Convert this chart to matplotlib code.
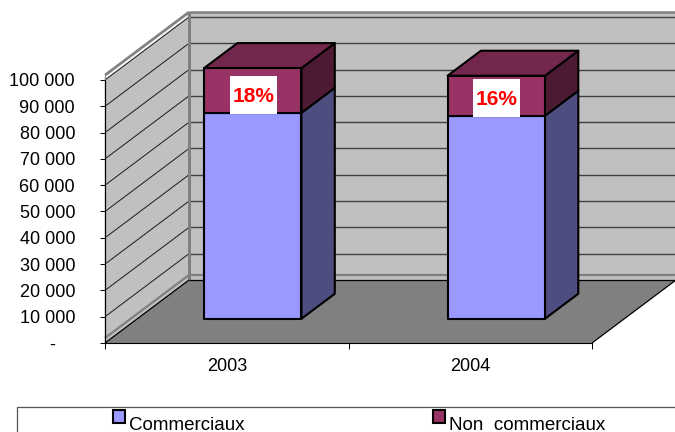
import matplotlib
matplotlib.use('Agg')
import matplotlib.pyplot as plt
from matplotlib.patches import Polygon, Rectangle, Patch
from matplotlib.transforms import ScaledTranslation

plt.rcParams['font.family'] = ['Liberation Sans', 'DejaVu Sans']

#=====
# Data
#=====

years = ['2003', '2004']
commerciaux = [78300, 77200]
non_commerciaux = [17000, 15200]
share_labels = ['18%', '16%']
y_ticks = [0, 10000, 20000, 30000, 40000, 50000, 60000, 70000, 80000, 90000, 100000]
y_tick_labels = ['-', '10 000', '20 000', '30 000', '40 000', '50 000',
                 '60 000', '70 000', '80 000', '90 000', '100 000']
legend_names = ['Commerciaux', 'Non  commerciaux']

#=================
# Oblique 3D setup
#=================

W, H = 675, 432
PX_X = 243.5     # pixels per category
PX_Y = 0.00263   # pixels per value unit
DX = 84 / PX_X   # full floor depth, in category units
DY = 63 / PX_Y   # full floor depth, in value units
BAR_D0 = 0.385   # depth of bar front
BAR_D1 = 0.782   # depth of bar back
BAR_W = 0.4
BAR_OFF = -0.026
TOP = 101900     # wall height including the rim


def proj(x, v, d=0.0):
    return (x + d * DX, v + d * DY)


fig = plt.figure(figsize=(W / 100, H / 100), dpi=100)
ax = fig.add_axes([105 / W, (H - 343) / H, (592 - 105) / W, (343 - 80) / H])
ax.set_xlim(0, 2)
ax.set_ylim(0, 100000)
ax.patch.set_visible(False)


def quad(points, color, edge='none', lw=0, z=1):
    ax.add_patch(Polygon(points, closed=True, facecolor=color, edgecolor=edge,
                         linewidth=lw, joinstyle='round', clip_on=False, zorder=z))


def line(p, q, color, lw, z=2):
    ax.plot([p[0], q[0]], [p[1], q[1]], color=color, linewidth=lw,
            clip_on=False, zorder=z, solid_capstyle='butt')


#=====================
# Walls and floor
#=====================

wall = '#C0C0C0'
rim = '#808080'
quad([proj(0, 0), proj(0, 0, 1), proj(0, TOP, 1), proj(0, TOP)], wall)
quad([proj(0, 0, 1), proj(2, 0, 1), proj(2, TOP, 1), proj(0, TOP, 1)], wall)

for v in y_ticks[1:]:
    line(proj(0, v), proj(0, v, 1), '#1A1A1A', 0.7)
    line(proj(0, v, 1), proj(2, v, 1), '#404040', 1.0)

# rim of the walls
base = 1900
line(proj(0, base), proj(0, base, 1), rim, 1.6)
line(proj(0, base, 1), proj(2, base, 1), rim, 1.6)
line(proj(0, 0), proj(0, TOP), rim, 1.0)
line(proj(0, 0, 1), proj(0, TOP, 1), rim, 2.2, z=3)
line(proj(0, TOP, 1), proj(2, TOP, 1), rim, 1.8, z=3)
line(proj(0, TOP), proj(0, TOP, 1), rim, 1.8, z=3)
line(proj(0.004, TOP - 900), proj(0.004, TOP - 900, 0.97), 'white', 1.0, z=3)

quad([proj(0, 0), proj(2, 0), proj(2, 0, 1), proj(0, 0, 1)], '#808080', z=4)
line(proj(0, 0, 1), proj(2, 0, 1), 'black', 0.9, z=5)
line(proj(0, 0), proj(0, 0, 1), 'black', 0.9, z=5)
line(proj(2, 0), proj(2, 0, 1), 'black', 0.9, z=5)

#=====
# Bars
#=====

EDGE = dict(edge='black', lw=1.5, z=6)

for i in range(len(years)):
    left = i + 0.5 + BAR_OFF - BAR_W / 2
    right = left + BAR_W
    low = commerciaux[i]
    high = low + non_commerciaux[i]

    # lower block
    quad([proj(right, 0, BAR_D0), proj(right, 0, BAR_D1),
          proj(right, low, BAR_D1), proj(right, low, BAR_D0)], '#4D4D80', **EDGE)
    quad([proj(left, 0, BAR_D0), proj(right, 0, BAR_D0),
          proj(right, low, BAR_D0), proj(left, low, BAR_D0)], '#9999FF', **EDGE)
    # upper block
    quad([proj(right, low, BAR_D0), proj(right, low, BAR_D1),
          proj(right, high, BAR_D1), proj(right, high, BAR_D0)], '#4D1A33', **EDGE)
    quad([proj(left, high, BAR_D0), proj(right, high, BAR_D0),
          proj(right, high, BAR_D1), proj(left, high, BAR_D1)], '#73274D', **EDGE)
    quad([proj(left, low, BAR_D0), proj(right, low, BAR_D0),
          proj(right, high, BAR_D0), proj(left, high, BAR_D0)], '#993366', **EDGE)

    # white label box sits on the top of the lower block
    cx = (left + right) / 2 + 0.5 / PX_X
    box_w = 47 / PX_X
    box_h = 37.5 / PX_Y
    box_y = proj(0, low, BAR_D0)[1] - 1 / PX_Y
    ax.add_patch(Rectangle((proj(cx - box_w / 2, 0, BAR_D0)[0], box_y), box_w, box_h,
                           facecolor='white', edgecolor='none', clip_on=False, zorder=7))
    ax.text(proj(cx, 0, BAR_D0)[0], box_y + 0.47 * box_h, share_labels[i], color='red',
            fontsize=15, fontweight='bold', ha='center', va='center', zorder=8)

#==============
# Axes and text
#==============

for s in ['top', 'right']:
    ax.spines[s].set_visible(False)
for s in ['left', 'bottom']:
    ax.spines[s].set_linewidth(0.8)
    ax.spines[s].set_zorder(9)

ax.set_yticks(y_ticks)
ax.set_yticklabels(y_tick_labels, fontsize=13)
ax.tick_params(axis='y', length=3.6, width=0.7, pad=18)
ax.set_xticks([0, 1, 2])
ax.set_xticklabels([])
ax.tick_params(axis='x', which='major', length=4.3, width=0.7)
ax.set_xticks([i + 0.5 for i in range(len(years))], minor=True)
ax.set_xticklabels(years, minor=True, fontsize=13)
ax.tick_params(axis='x', which='minor', length=0, pad=10.5)

# the zero label sits further left, as in an accounting number format
zero_label = ax.get_yticklabels()[0]
zero_label.set_transform(zero_label.get_transform()
                         + ScaledTranslation(-20 / 100, 0, fig.dpi_scale_trans))

#=======
# Legend
#=======

fig.add_artist(Rectangle((17 / W, -0.05), 0.99, (H - 406.5) / H + 0.05, facecolor='white',
                         edgecolor='#555555', linewidth=0.9, transform=fig.transFigure))
handles = [Patch(facecolor='#9999FF', edgecolor='black', linewidth=1.5),
           Patch(facecolor='#993366', edgecolor='black', linewidth=1.5)]
leg = fig.legend(handles, legend_names, ncol=2, frameon=False, fontsize=13.5,
                 loc='lower left', bbox_to_anchor=(113 / W, -2 / H), borderpad=0,
                 borderaxespad=0, handlelength=0.66, handleheight=0.66,
                 handletextpad=0.2, columnspacing=10.05)
for p in leg.get_patches():
    p.set_y(p.get_y() + 5)

fig.savefig('out.png', dpi=100)
